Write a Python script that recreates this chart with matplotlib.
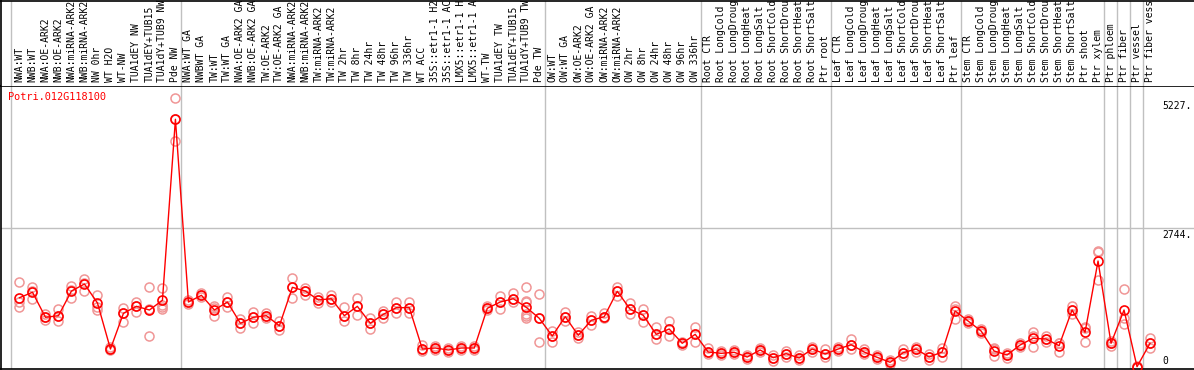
import matplotlib
matplotlib.use("Agg")
import matplotlib.pyplot as plt

gene = "Potri.012G118100"

# header labels as they show in the strip (long ones are cut off there)
labels = ["NWA:WT", "NWB:WT", "NWA:OE-ARK2", "NWB:OE-ARK2", "NWA:miRNA-ARK2",
          "NWB:miRNA-ARK2", "NW 0hr", "WT H2O", "WT-NW", "TUA1dEY NW",
          "TUA1dEY+TUB15", "TUA1dY+TUB9 NW", "Pde NW",
          "NWA:WT GA", "NWBWT GA", "TW:WT", "TW:WT GA", "NWA:OE-ARK2 GA",
          "NWB:OE-ARK2 GA", "TW:OE-ARK2", "TW:OE-ARK2 GA", "NWA:miRNA-ARK2",
          "NWB:miRNA-ARK2", "TW:miRNA-ARK2", "TW:miRNA-ARK2", "TW 2hr", "TW 8hr",
          "TW 24hr", "TW 48hr", "TW 96hr", "TW 336hr", "WT ACC", "35S::etr1-1 H2",
          "35S::etr1-1 AC", "LMX5::etr1-1 H", "LMX5::etr1-1 A", "WT-TW",
          "TUA1dEY TW", "TUA1dEY+TUB15", "TUA1dY+TUB9 TW", "Pde TW",
          "OW:WT", "OW:WT GA", "OW:OE-ARK2", "OW:OE-ARK2 GA", "OW:miRNA-ARK2",
          "OW:miRNA-ARK2", "OW 2hr", "OW 8hr", "OW 24hr", "OW 48hr", "OW 96hr",
          "OW 336hr",
          "Root CTR", "Root LongCold", "Root LongDroug", "Root LongHeat",
          "Root LongSalt", "Root ShortCold", "Root ShortDrou", "Root ShortHeat",
          "Root ShortSalt", "Ptr root",
          "Leaf CTR", "Leaf LongCold", "Leaf LongDroug", "Leaf LongHeat",
          "Leaf LongSalt", "Leaf ShortCold", "Leaf ShortDrou", "Leaf ShortHeat",
          "Leaf ShortSalt", "Ptr leaf",
          "Stem CTR", "Stem LongCold", "Stem LongDroug", "Stem LongHeat",
          "Stem LongSalt", "Stem ShortCold", "Stem ShortDrou", "Stem ShortHeat",
          "Stem ShortSalt", "Ptr shoot", "Ptr xylem",
          "Ptr phloem", "Ptr fiber", "Ptr vessel", "Ptr fiber vess"]

means = [1368, 1475, 981, 1013, 1500, 1638, 1263, 355, 1060, 1198, 1125, 1317, 4890,
         1283, 1415, 1125, 1283, 863, 981, 1013, 815, 1573, 1500, 1323, 1348, 1013,
         1198, 863, 1040, 1171, 1171, 355, 375, 336, 375, 375, 1159, 1283, 1348, 1178,
         961,
         612, 993, 626, 922, 993, 1494, 1139, 1021, 645, 750, 468, 645,
         296, 270, 290, 197, 336, 184, 263, 178, 355, 257,
         355, 440, 296, 191, 93, 282, 355, 197, 296, 1105,
         908, 711, 316, 237, 434, 567, 553, 420, 1125, 685, 2092,
         468, 1125, 6, 468]

reps = [[1672, 1289, 1178], [1573, 1500, 1336], [1046, 987, 928], [1139, 1007, 914],
        [1605, 1520, 1368], [1731, 1658, 1506], [1421, 1190, 1125], [395, 355, 336],
        [1159, 1066, 894], [1289, 1204, 1092], [1573, 1139, 618],
        [1553, 1224, 1178, 1139], [5304, 4890, 4461],
        [1323, 1283, 1244], [1455, 1415, 1376], [1204, 1165, 1007], [1388, 1283, 1178],
        [942, 869, 764], [1086, 981, 875], [1066, 1013, 967], [914, 809, 730],
        [1751, 1573, 1368], [1565, 1500, 1427], [1388, 1323, 1257], [1415, 1348, 1283],
        [1178, 1013, 914], [1356, 1198, 1021], [961, 863, 750], [1105, 1040, 961],
        [1277, 1171, 1072], [1289, 1171, 1072], [434, 355, 322], [415, 375, 336],
        [375, 336, 296], [415, 375, 336], [415, 375, 336], [1204, 1159, 1125],
        [1402, 1283, 1145], [1467, 1348, 1289],
        [1573, 1309, 1276, 1046, 1007, 961], [1435, 961, 488],
        [711, 612, 500], [1092, 993, 914], [697, 626, 567], [1007, 922, 829],
        [1060, 993, 961], [1585, 1494, 1402], [1269, 1139, 1040], [1145, 1021, 894],
        [796, 645, 553], [908, 750, 612], [500, 468, 434], [796, 645, 488],
        [369, 296, 257], [310, 270, 237], [330, 290, 251], [237, 197, 158],
        [381, 336, 290], [237, 184, 124], [322, 263, 203], [237, 178, 138],
        [401, 355, 302], [349, 257, 191],
        [389, 355, 322], [553, 440, 355], [355, 296, 257], [231, 191, 152],
        [132, 93, 53], [355, 282, 217], [389, 355, 290], [257, 197, 138],
        [369, 296, 203], [1204, 1145, 948],
        [942, 908, 875], [750, 711, 665], [369, 355, 217], [270, 237, 172],
        [468, 434, 401], [697, 612, 401], [612, 553, 488], [480, 474, 302],
        [1204, 1125, 1046], [796, 770, 488], [2296, 2264, 1717],
        [513, 468, 420], [1534, 961, 849], [10, 5, 0], [578, 468, 369]]

# group separators, in column units
separators = [-0.65, 12.46, 40.46, 52.46, 62.46, 72.46, 83.46, 84.46, 85.46, 86.46]
ticks = [0, 2744, 5227]

W, H = 1194, 370
fig = plt.figure(figsize=(W / 100, H / 100), dpi=100)
top_px = 86
bot_px = 368.5
ax = fig.add_axes([0.5 / W, (H - bot_px) / H, 1 - 0.5 / W, (bot_px - top_px) / H])
hx = fig.add_axes([0.5 / W, (H - top_px) / H, 1 - 0.5 / W, (top_px - 0.5) / H], sharex=ax)

# 19px offset, 13px per column
ax.set_xlim(-19 / 13, (W - 19) / 13)
ax.set_ylim((367 - bot_px) * 19.74, (367 - top_px) * 19.74)

font = "DejaVu Sans Mono"
fs = 7.0
grey = "#C0C0C0"

for s in separators:
    ax.axvline(s, color=grey, lw=1, zorder=0)
    hx.axvline(s, color=grey, lw=1, zorder=0)
ax.axhline(ticks[1], color=grey, lw=1, zorder=0)

x = list(range(len(labels)))
for i, r in enumerate(reps):
    ax.plot([i] * len(r), r, "o", ms=6.5, mfc="none", mec="#F09696", mew=1.1,
            zorder=2, clip_on=False)
ax.plot(x, means, "-", color="red", lw=1.0, zorder=3)
ax.plot(x, means, "o", ms=6.5, mfc="none", mec="red", mew=1.2, zorder=4, clip_on=False)

ax.text(8 / W, 0.98, gene, transform=ax.transAxes, color="red", family=font,
        fontsize=7.4, va="top", ha="left")

ax.text(87.95, ticks[2] + 30, "5227.", family=font, fontsize=fs, va="top", ha="left")
ax.text(87.95, ticks[1] - 30, "2744.", family=font, fontsize=fs, va="top", ha="left")
ax.text(87.95, ticks[0] + 10, "0", family=font, fontsize=fs, va="bottom", ha="left")

for i, lab in enumerate(labels):
    hx.text(i, 0.045, lab, transform=hx.get_xaxis_transform(), rotation=90,
            family=font, fontsize=fs, ha="center", va="bottom")

for a in (ax, hx):
    a.set_xticks([])
    a.set_yticks([])
    a.spines["right"].set_visible(False)
    for sp in a.spines.values():
        sp.set_linewidth(1.2)
hx.spines["bottom"].set_visible(False)
hx.set_ylim(0, 1)
ax.set_xlim(-19 / 13, (W - 19) / 13)

fig.savefig("out.png", dpi=100)
